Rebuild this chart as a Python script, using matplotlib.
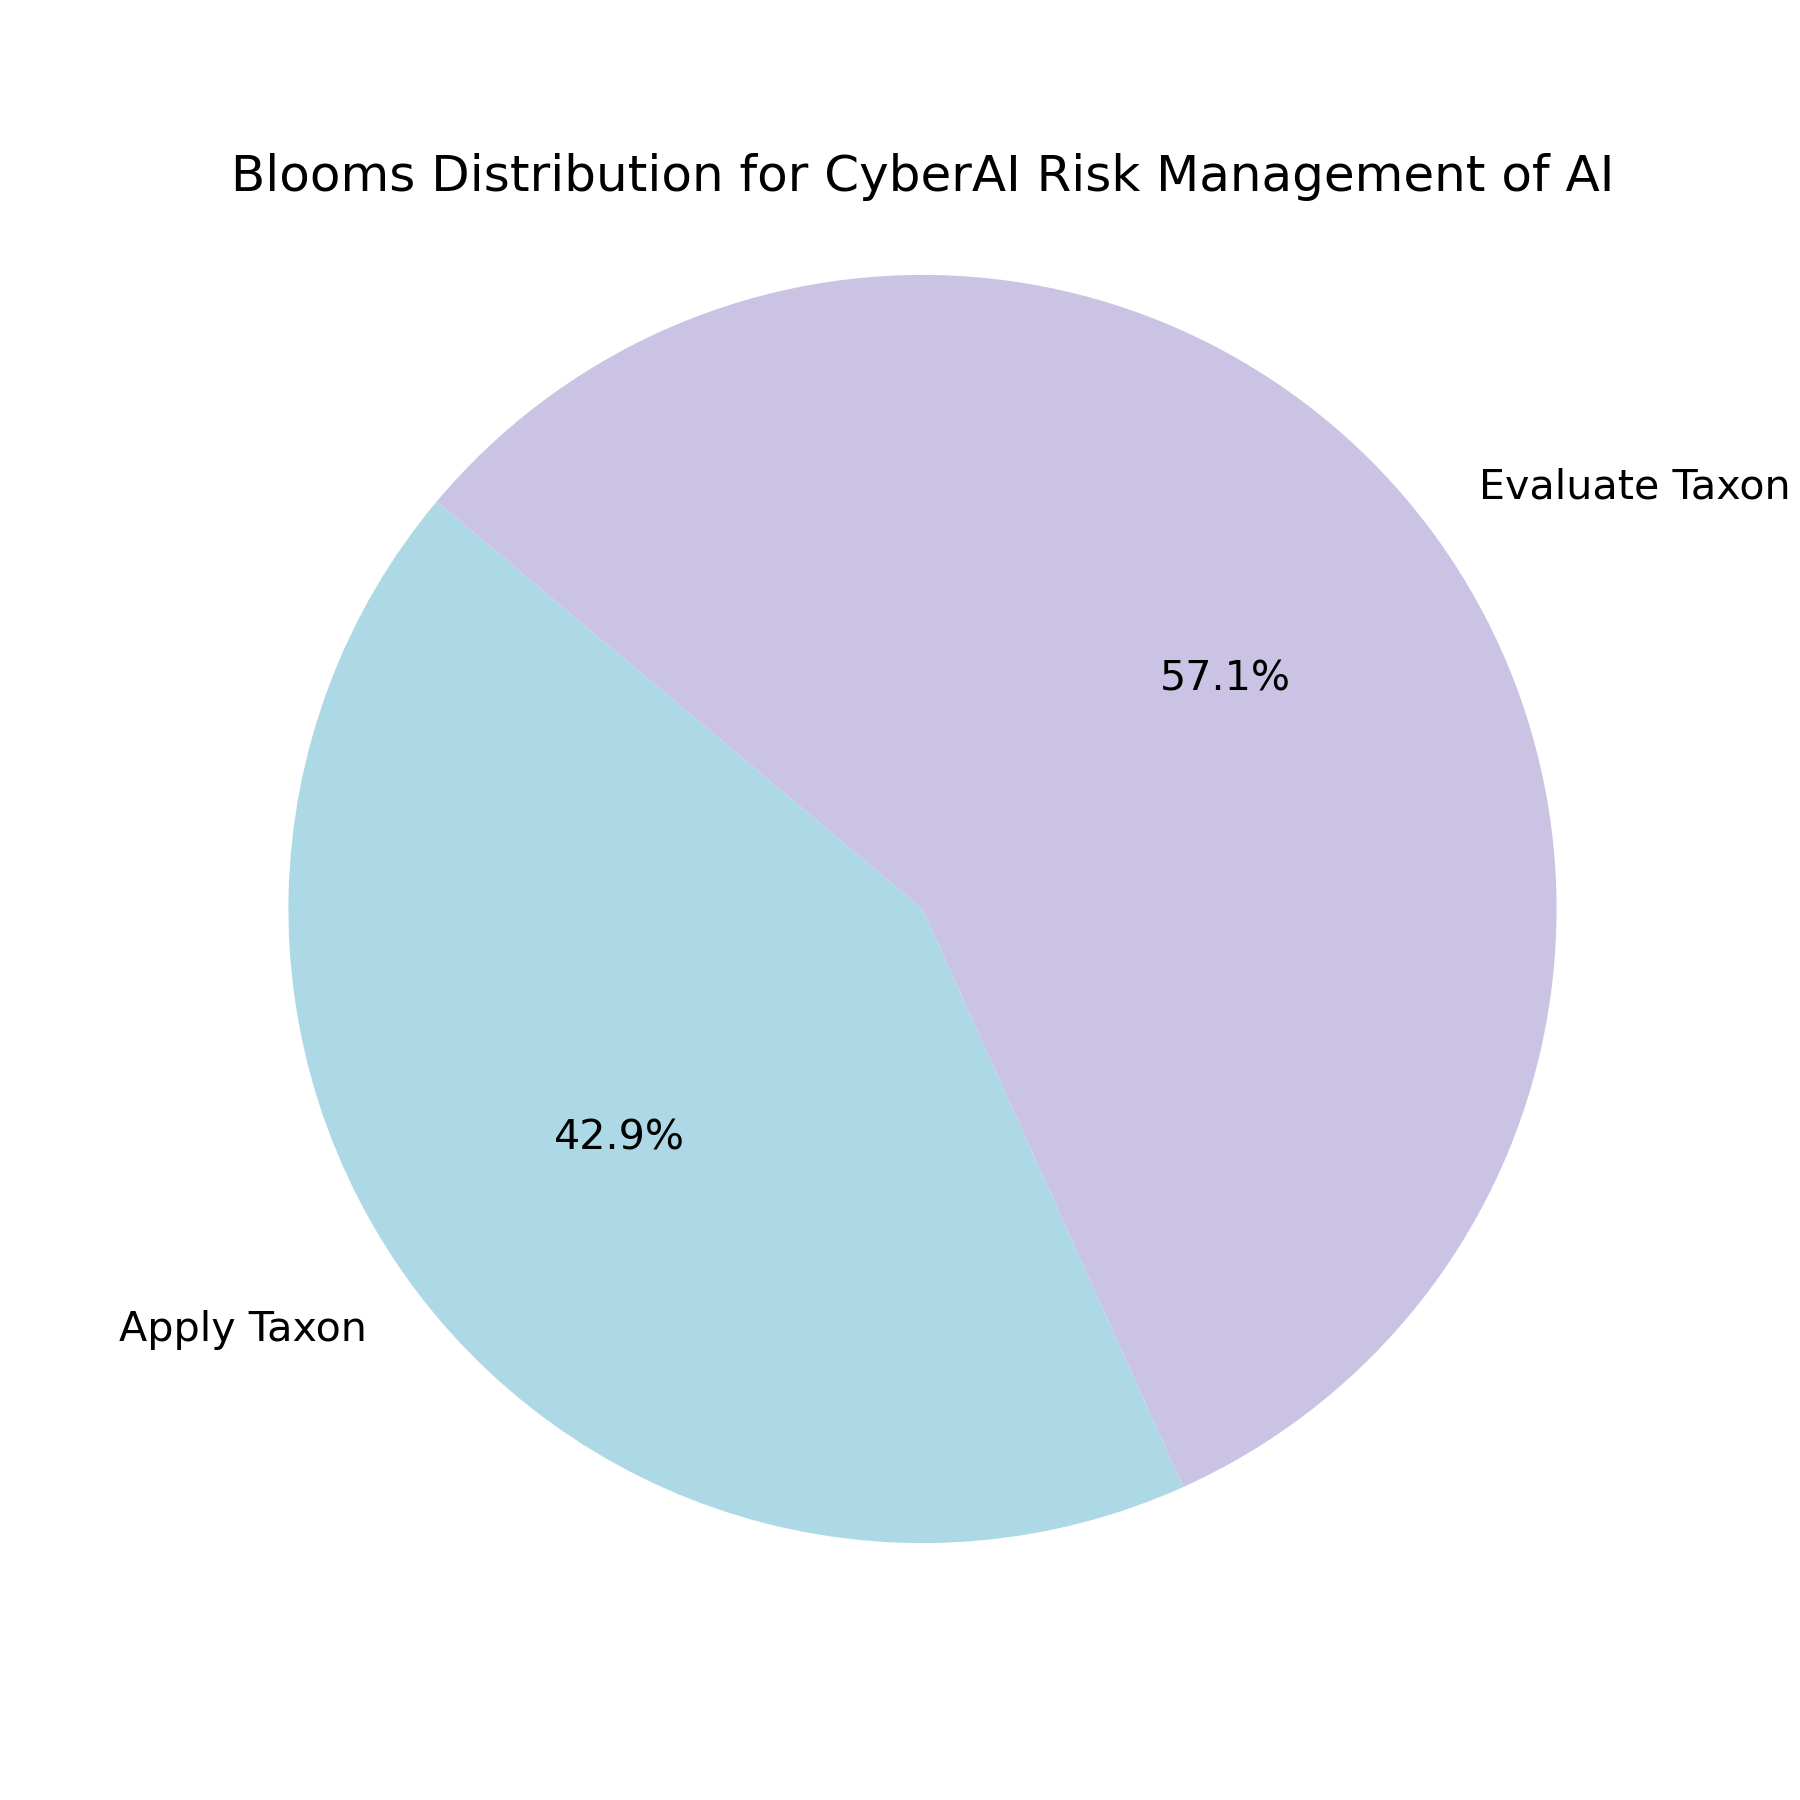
import matplotlib
matplotlib.use('Agg')
import matplotlib.pyplot as plt

# данные
labels = ['Apply Taxon', 'Evaluate Taxon']
counts = [3, 4]
colors = ['#ADD8E6', '#CBC3E3']

fig, ax = plt.subplots(figsize=(10, 10), dpi=180)
ax.pie(counts, labels=labels, colors=colors, autopct='%1.1f%%',
       startangle=140, textprops={'fontsize': 16.5})
ax.set_title('Blooms Distribution for CyberAI Risk Management of AI', fontsize=20, pad=10)
ax.axis('equal')
plt.savefig('out.png', dpi=180)
